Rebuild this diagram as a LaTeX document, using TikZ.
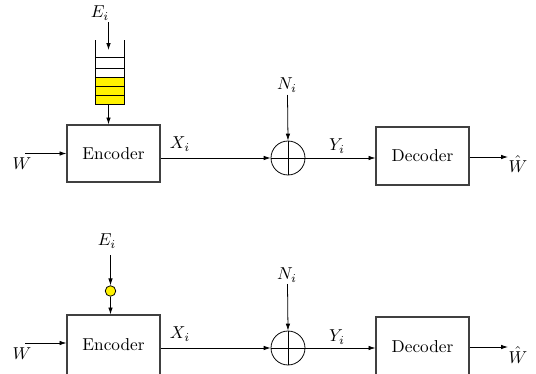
\documentclass[tikz,border=0pt]{standalone}
\usetikzlibrary{arrows.meta}
\begin{document}
\def\u{0.58pt}
\begin{tikzpicture}[x=\u,y=-\u,
  line width=0.45pt,
  arr/.style={-{Latex[length=4pt,width=2.6pt]}},
  blockbox/.style={draw=black!75,line width=0.6pt,rectangle,inner sep=0pt,minimum width={93*0.58pt}},
  sumnode/.style={draw,circle,inner sep=0pt,minimum size={34*0.58pt}},
  lbl/.style={inner sep=0pt}]
\useasboundingbox (0,0) rectangle (536,374);
\clip (0,0) rectangle (536,374);
% ---------- top diagram ----------
\node[blockbox,minimum height={57*0.58pt}] (enc1) at (113.5,153.5) {Encoder};
\node[blockbox,minimum height={58*0.58pt}] (dec1) at (422.5,156) {Decoder};
\node[sumnode] (s1) at (288,158) {};
\draw (s1.north) -- (s1.south) (s1.west) -- (s1.east);
\coordinate (w1) at (25,153.5);
\coordinate (o1) at (508,157);
\coordinate (n1) at (287.5,95);
\node[lbl] at (22,164) {$W$};
\node[lbl] at (180,144) {$X_i$};
\node[lbl] at (337,146) {$Y_i$};
\node[lbl] at (287,85) {$N_i$};
\node[lbl] at (518,164) {$\hat{W}$};
\node[lbl] at (100,13) {$E_i$};
\draw[arr] (w1) -- (enc1.west);
\draw[arr] (enc1.east |- s1) -- (s1.west);
\draw[arr] (s1.east) -- (s1.east -| dec1.west);
\draw[arr] (dec1.east |- o1) -- (o1);
\draw[arr] (n1) -- (s1.north);
% buffer
\fill[yellow] (95,77) rectangle (124,104);
\draw (95,40) -- (95,104) -- (124,104) -- (124,40);
\foreach \yy in {57,68,77,86,95} \draw (95,\yy) -- (124,\yy);
\coordinate (e1) at (108.5,22);
\coordinate (bt1) at (108.5,50);
\coordinate (bb1) at (108.5,104);
\draw[arr] (e1) -- (bt1);
\draw[arr] (bb1) -- (bb1 |- enc1.north);
% ---------- bottom diagram ----------
\node[blockbox,minimum height={60*0.58pt}] (enc2) at (113.5,345) {Encoder};
\node[blockbox,minimum height={60*0.58pt}] (dec2) at (422.5,347) {Decoder};
\node[sumnode] (s2) at (288,348) {};
\draw (s2.north) -- (s2.south) (s2.west) -- (s2.east);
\coordinate (w2) at (25,343);
\coordinate (o2) at (508,347);
\coordinate (n2) at (287.5,284);
\node[lbl] at (22,354) {$W$};
\node[lbl] at (180,334) {$X_i$};
\node[lbl] at (337,337) {$Y_i$};
\node[lbl] at (287,275) {$N_i$};
\node[lbl] at (518,355) {$\hat{W}$};
\node[lbl] at (107,241) {$E_i$};
\draw[arr] (w2) -- (w2 -| enc2.west);
\draw[arr] (enc2.east |- s2) -- (s2.west);
\draw[arr] (s2.east) -- (s2.east -| dec2.west);
\draw[arr] (dec2.east |- o2) -- (o2);
\draw[arr] (n2) -- (s2.north);
\node[draw,circle,fill=yellow,inner sep=0pt,minimum size={10.5*0.58pt}] (dot) at (110.5,291) {};
\coordinate (e2) at (110.5,255);
\draw[arr] (e2) -- (dot.north);
\draw[arr] (dot.south) -- (dot.south |- enc2.north);
\end{tikzpicture}
\end{document}
